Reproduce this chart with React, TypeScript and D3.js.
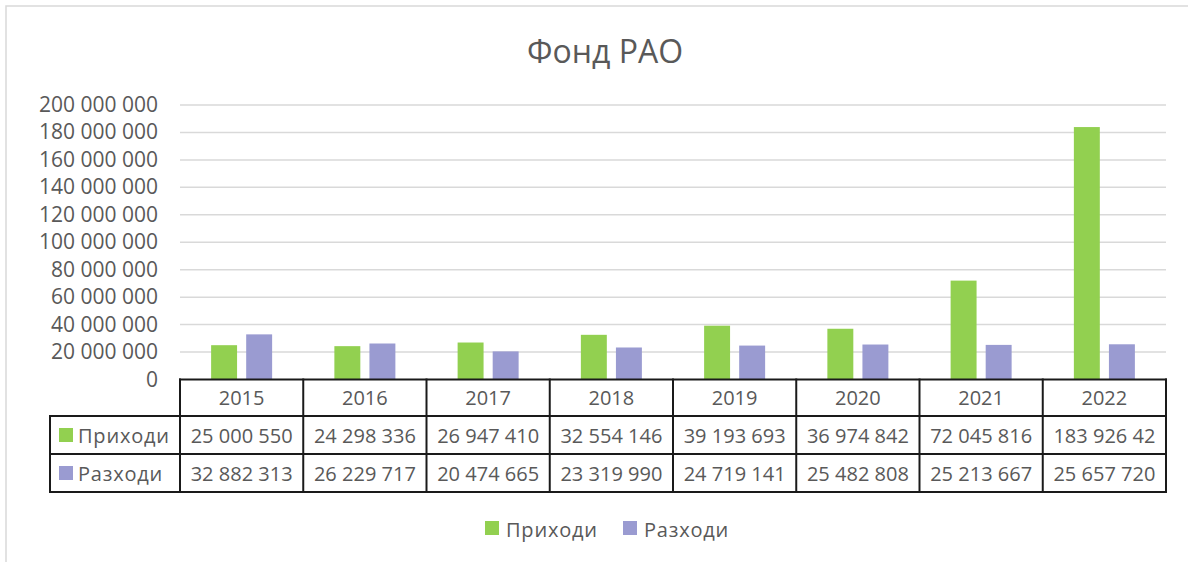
import React, { useEffect, useRef } from "react";
import * as d3 from "d3";

const years = ["2015", "2016", "2017", "2018", "2019", "2020", "2021", "2022"];
const income = [25000550, 24298336, 26947410, 32554146, 39193693, 36974842, 72045816, 183926420];
const expenses = [32882313, 26229717, 20474665, 23319990, 24719141, 25482808, 25213667, 25657720];
const seriesNames = ["Приходи", "Разходи"];
const seriesColors = ["#92D050", "#9A9BD1"];
const yTicks = [0, 20000000, 40000000, 60000000, 80000000, 100000000, 120000000, 140000000, 160000000, 180000000, 200000000];

const W = 1188;
const H = 562;
const FONT = "'Open Sans', sans-serif";
const TXT = "#595959";

export default function App() {
  const ref = useRef<SVGSVGElement | null>(null);

  useEffect(() => {
    const svg = d3.select(ref.current);
    svg.selectAll("*").remove();

    const locale = d3.formatLocale({ thousands: " ", grouping: [3], decimal: ",", currency: ["", ""] });
    const fmt = locale.format(",d");

    const left = 180, right = 1166, top = 105, bottom = 379.5;
    const x0 = d3.scaleBand().domain(years).range([left, right]).paddingInner(0.505).paddingOuter(0.2525);
    const x1 = d3.scaleBand().domain(seriesNames).range([0, x0.bandwidth()]).paddingInner(0.26);
    const y = d3.scaleLinear().domain([0, 200000000]).range([bottom, top]);

    // chart frame
    svg.append("rect")
      .attr("x", 6).attr("y", 6).attr("width", W + 20).attr("height", H + 20)
      .attr("fill", "#fff").attr("stroke", "#d9d9d9").attr("stroke-width", 1.5);

    svg.append("text")
      .attr("x", 605).attr("y", 63)
      .attr("text-anchor", "middle")
      .attr("font-family", FONT).attr("font-size", 32)
      .attr("fill", TXT)
      .text("Фонд РАО");

    // horizontal grid lines
    svg.selectAll(".grid")
      .data(yTicks.slice(1))
      .join("line")
      .attr("x1", left).attr("x2", right)
      .attr("y1", d => y(d)).attr("y2", d => y(d))
      .attr("stroke", "#d9d9d9").attr("stroke-width", 1.5);

    svg.selectAll(".ylab")
      .data(yTicks)
      .join("text")
      .attr("x", 158).attr("y", d => y(d) + 7)
      .attr("text-anchor", "end")
      .attr("font-family", FONT).attr("font-size", 21)
      .attr("fill", TXT)
      .text(d => fmt(d));

    // bars
    const series = [income, expenses];
    series.forEach((vals, si) => {
      svg.append("g").selectAll("rect")
        .data(vals)
        .join("rect")
        .attr("x", (d, i) => x0(years[i])! + x1(seriesNames[si])!)
        .attr("y", d => y(d))
        .attr("width", x1.bandwidth())
        .attr("height", d => bottom - y(d))
        .attr("fill", seriesColors[si]);
    });

    // data table
    const rowTop = 379.5, rowH = 416, row1 = 454, row2 = 492;
    const tableLeft = 50;
    const line = (xa: number, ya: number, xb: number, yb: number) =>
      svg.append("line")
        .attr("x1", xa).attr("y1", ya).attr("x2", xb).attr("y2", yb)
        .attr("stroke", "#1a1a1a").attr("stroke-width", 2)
        .attr("stroke-linecap", "square");

    line(left, rowTop, right, rowTop);
    line(tableLeft, rowH, right, rowH);
    line(tableLeft, row1, right, row1);
    line(tableLeft, row2, right, row2);
    line(tableLeft, rowH, tableLeft, row2);
    const step = x0.step();
    d3.range(years.length + 1).forEach(i => {
      const xx = left + i * step;
      line(xx, rowTop, xx, row2);
    });

    svg.selectAll(".year")
      .data(years)
      .join("text")
      .attr("x", d => x0(d)! + x0.bandwidth() / 2)
      .attr("y", 405)
      .attr("text-anchor", "middle")
      .attr("font-family", FONT).attr("font-size", 20)
      .attr("fill", TXT)
      .text(d => d);

    const baselines = [443, 481];
    series.forEach((vals, si) => {
      const g = svg.append("g");
      g.append("rect")
        .attr("x", 59).attr("y", baselines[si] - 15)
        .attr("width", 14).attr("height", 14)
        .attr("fill", seriesColors[si]);
      g.append("text")
        .attr("x", 78).attr("y", baselines[si])
        .attr("font-family", FONT).attr("font-size", 20)
        .attr("letter-spacing", 0.8)
        .attr("fill", TXT)
        .text(seriesNames[si]);
      g.selectAll(".val")
        .data(vals)
        .join("text")
        .attr("x", (d, i) => x0(years[i])! + x0.bandwidth() / 2)
        .attr("y", baselines[si])
        .attr("text-anchor", "middle")
        .attr("font-family", FONT).attr("font-size", 20)
        .attr("fill", TXT)
        // the cell is too narrow for 11 chars, Excel cuts the last digit off
        .text(d => fmt(d).slice(0, 10));
    });

    // legend
    const legX = [485, 623];
    seriesNames.forEach((name, si) => {
      svg.append("rect")
        .attr("x", legX[si]).attr("y", 521)
        .attr("width", 14).attr("height", 14)
        .attr("fill", seriesColors[si]);
      svg.append("text")
        .attr("x", legX[si] + 21).attr("y", 537)
        .attr("font-family", FONT).attr("font-size", 20)
        .attr("letter-spacing", 0.8)
        .attr("fill", TXT)
        .text(name);
    });
  }, []);

  return (
    <svg
      ref={ref}
      width={W}
      height={H}
      style={{ position: "absolute", left: 0, top: 0, display: "block" }}
    />
  );
}
